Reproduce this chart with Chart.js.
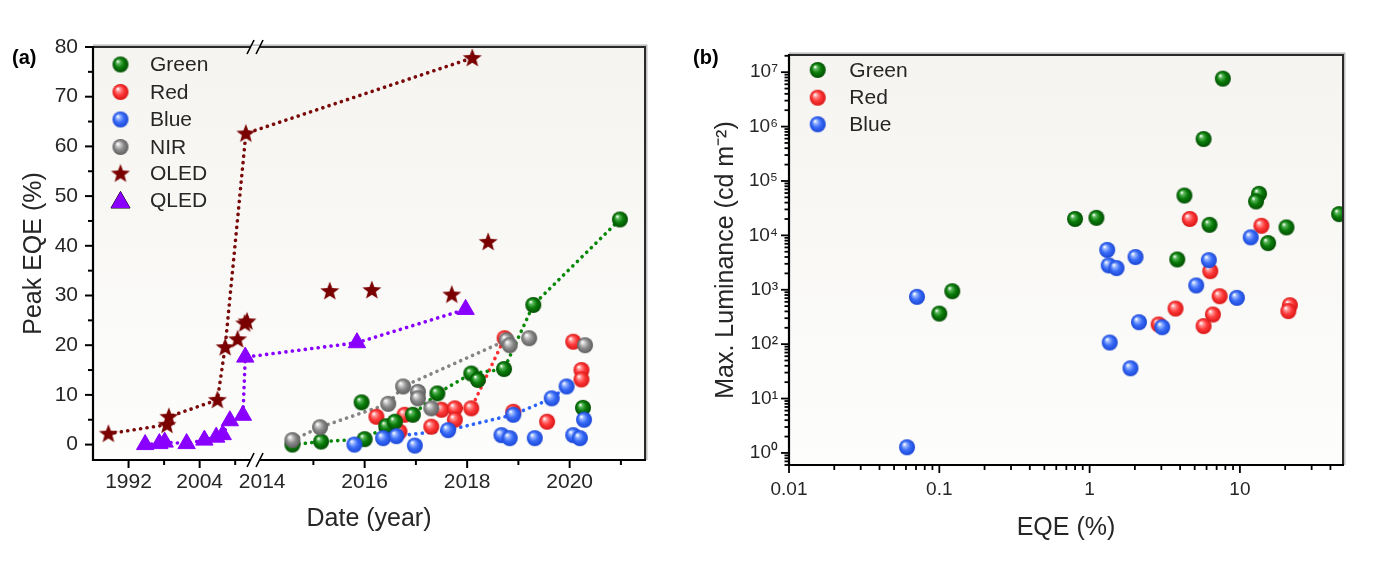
<!DOCTYPE html>
<html><head><meta charset="utf-8">
<script src="https://cdn.jsdelivr.net/npm/chart.js@4.4.0/dist/chart.umd.min.js"></script>
<style>
html,body{margin:0;padding:0;background:#fff;width:1376px;height:563px;overflow:hidden;}
#ca{position:absolute;left:0;top:0;}
#cb{position:absolute;left:680px;top:0;}
.lbl{position:absolute;font-family:"Liberation Sans",Arial,sans-serif;font-weight:bold;font-size:20px;line-height:20px;color:#000;}
</style></head><body>
<canvas id="ca" width="680" height="563"></canvas>
<canvas id="cb" width="696" height="563"></canvas>
<div class="lbl" style="left:12px;top:47px">(a)</div>
<div class="lbl" style="left:693px;top:47px">(b)</div>
<script>
// ---------------- Panel (a): peak EQE vs date ----------------
const greenYears = [2014.59, 2015.15, 2016.00, 2015.94, 2016.42, 2016.59, 2016.94, 2017.42, 2018.08, 2018.21, 2018.72, 2019.29, 2020.98, 2020.26];
const greenEQE   = [0.0, 0.6, 1.1, 8.5, 3.7, 4.6, 6.0, 10.3, 14.3, 13.0, 15.2, 28.1, 45.3, 7.4];
const greenTrendYears = [2014.59, 2015.15, 2016.00, 2016.42, 2016.94, 2017.42, 2018.08, 2018.72, 2019.29, 2020.98];
const greenTrendEQE   = [0.0, 0.6, 1.1, 3.7, 6.0, 10.3, 14.3, 15.2, 28.1, 45.3];

const redYears = [2016.23, 2016.68, 2016.78, 2017.30, 2017.50, 2017.76, 2017.76, 2018.08, 2018.73, 2018.90, 2019.56, 2020.07, 2020.23, 2020.23];
const redEQE   = [5.6, 2.6, 6.0, 3.6, 7.0, 7.3, 5.0, 7.3, 21.4, 6.6, 4.6, 20.7, 15.0, 13.1];
const redTrendYears = [2017.76, 2018.08, 2018.73];
const redTrendEQE   = [7.3, 7.3, 21.4];

const blueYears = [2015.80, 2016.36, 2016.62, 2016.98, 2017.63, 2018.67, 2018.83, 2018.90, 2019.32, 2019.65, 2019.94, 2020.07, 2020.20, 2020.28];
const blueEQE   = [0.0, 1.3, 1.7, -0.2, 2.9, 1.9, 1.3, 6.0, 1.3, 9.3, 11.7, 1.9, 1.3, 5.0];
const blueTrendYears = [2016.62, 2017.63, 2018.90, 2019.65, 2019.94];
const blueTrendEQE   = [1.7, 2.9, 6.0, 9.3, 11.7];

const nirYears = [2014.59, 2015.13, 2016.46, 2016.75, 2017.04, 2017.04, 2017.30, 2018.77, 2018.83, 2019.21, 2020.30];
const nirEQE   = [0.9, 3.5, 8.2, 11.7, 10.6, 9.3, 7.3, 21.0, 20.0, 21.4, 20.0];
const nirTrendYears = [2014.59, 2015.13, 2016.46, 2016.75, 2018.77];
const nirTrendEQE   = [0.9, 3.5, 8.2, 11.7, 21.0];

const oledYears = [1988.6, 1998.5, 1998.8, 2007.0, 2008.3, 2011.8, 2018.10, 2010.4, 2011.6, 2012.0, 2015.32, 2016.14, 2017.70, 2018.41];
const oledEQE   = [2.2, 4.0, 5.6, 9.0, 19.6, 62.6, 77.8, 21.2, 24.4, 24.8, 30.9, 31.1, 30.2, 40.8];
const oledTrendYears = [1988.6, 1998.5, 1998.8, 2007.0, 2008.3, 2011.8, 2018.10];
const oledTrendEQE   = [2.2, 4.0, 5.6, 9.0, 19.6, 62.6, 77.8];

const qledYears = [1994.8, 1997.2, 1998.1, 2001.8, 2004.8, 2006.8, 2007.9, 2009.1, 2011.3, 2011.7, 2015.85, 2017.97];
const qledEQE   = [0.0, 0.2, 0.5, 0.2, 0.9, 1.5, 2.0, 4.8, 5.9, 17.6, 20.5, 27.2];

const aYTicks = [0, 10, 20, 30, 40, 50, 60, 70, 80];
const aYMinor = [5, 15, 25, 35, 45, 55, 65, 75];
const aXTickYears = [1992, 2004, 2014, 2016, 2018, 2020];
const aXMajorMarks = [1992, 2004, 2016, 2018, 2020];
const aXMinorYears = [1998, 2010, 2015, 2017, 2019, 2021];
const aLegendNames = ['Green', 'Red', 'Blue', 'NIR', 'OLED', 'QLED'];

// ---------------- Panel (b): max luminance vs EQE ----------------
const bGreenEQE = [7.7, 5.73, 4.27, 13.4, 12.8, 45.7, 0.80, 1.11, 6.28, 20.4, 15.4, 3.83, 0.122, 0.100];
const bGreenLum = [7.6e6, 5.9e5, 5.4e4, 5.8e4, 4.2e4, 2.46e4, 2.0e4, 2.1e4, 1.56e4, 1.4e4, 7.2e3, 3.6e3, 940, 365];
const bRedEQE = [4.64, 13.9, 6.35, 7.33, 3.73, 6.61, 21.5, 21.0, 5.73, 2.88];
const bRedLum = [2.0e4, 1.5e4, 2.2e3, 760, 450, 350, 520, 405, 215, 230];
const bBlueEQE = [1.31, 11.8, 1.34, 1.51, 2.02, 6.21, 5.12, 9.55, 2.13, 3.04, 1.36, 1.87, 0.071, 0.061];
const bBlueLum = [5.4e3, 9.2e3, 2.8e3, 2.5e3, 4.0e3, 3.5e3, 1.2e3, 710, 253, 205, 107, 36, 740, 1.27];

const bXTicks = [0.01, 0.1, 1, 10];
const bXTickLabels = ['0.01', '0.1', '1', '10'];
const bYTicks = [1, 10, 100, 1e3, 1e4, 1e5, 1e6, 1e7];
const bYTickLabels = ['10\u2070', '10\u00b9', '10\u00b2', '10\u00b3', '10\u2074', '10\u2075', '10\u2076', '10\u2077'];
const bLegendNames = ['Green', 'Red', 'Blue'];

// ---------------- helpers ----------------
const FONT = '"Liberation Sans", Arial, Helvetica, sans-serif';
Chart.defaults.font.family = FONT;
Chart.defaults.color = '#262626';
const TXT = '#262626';

const AX_MIN = 2010.70, AX_MAX = 2021.47;
function toAxis(year) { return year < 2013.9 ? AX_MIN + (year - 1986) * 0.1156 : year; }

function ball(light, color, dark, r) {
  const c = document.createElement('canvas');
  const s = Math.ceil(2 * r + 2);
  c.width = s; c.height = s;
  const g = c.getContext('2d');
  const cx = s / 2, cy = s / 2;
  const grd = g.createRadialGradient(cx - r * 0.35, cy - r * 0.4, r * 0.05, cx, cy, r);
  grd.addColorStop(0, '#ffffff');
  grd.addColorStop(0.2, light);
  grd.addColorStop(0.55, color);
  grd.addColorStop(1, dark);
  g.fillStyle = grd;
  g.beginPath(); g.arc(cx, cy, r, 0, Math.PI * 2); g.fill();
  return c;
}
function starImg(r, color) {
  const c = document.createElement('canvas');
  const s = Math.ceil(2 * r + 2);
  c.width = s; c.height = s;
  const g = c.getContext('2d');
  const cx = s / 2, cy = s / 2 + 0.5;
  g.fillStyle = color;
  g.beginPath();
  for (let i = 0; i < 10; i++) {
    const rr = i % 2 === 0 ? r : r * 0.42;
    const a = -Math.PI / 2 + i * Math.PI / 5;
    const px = cx + rr * Math.cos(a), py = cy + rr * Math.sin(a);
    if (i === 0) g.moveTo(px, py); else g.lineTo(px, py);
  }
  g.closePath(); g.fill();
  return c;
}
const R = 8;
const BALL = {
  green: ball('#5cb85c', '#0a7d0a', '#034e03', R),
  red:   ball('#ff9a9a', '#ff3a3a', '#d81414', R),
  blue:  ball('#9ab8ff', '#3a6cf7', '#1a46d6', R),
  gray:  ball('#d0d0d0', '#8c8c8c', '#5e5e5e', R)
};
const STAR = starImg(10, '#7a0000');
const QCOL = '#8a00ff';

const pts = (xs, ys, f) => xs.map((x, i) => ({ x: f ? f(x) : x, y: ys[i] }));

function pointSet(label, xs, ys, img) {
  return { label, data: pts(xs, ys, toAxis), pointStyle: img, pointRadius: R, pointHoverRadius: R, showLine: false };
}
function trendSet(label, xs, ys, color) {
  return { label, data: pts(xs, ys, toAxis), showLine: true, pointRadius: 0, pointHoverRadius: 0,
    borderColor: color, borderWidth: 3.6, borderDash: [0.1, 6.4], borderCapStyle: 'round', tension: 0, fill: false, trend: true };
}

function paintBg(chart) {
  const { ctx, chartArea: a } = chart;
  ctx.save();
  const g = ctx.createLinearGradient(0, a.top, 0, a.bottom);
  g.addColorStop(0, '#f5f4f0');
  g.addColorStop(1, '#fdfdfc');
  ctx.fillStyle = g;
  ctx.fillRect(a.left, a.top, a.right - a.left, a.bottom - a.top);
  ctx.restore();
}
function line(ctx, x1, y1, x2, y2) { ctx.beginPath(); ctx.moveTo(x1, y1); ctx.lineTo(x2, y2); ctx.stroke(); }

function drawFrame(ctx, a, brk) {
  ctx.save();
  ctx.lineCap = 'butt';
  // soft shadow of the top/right border
  ctx.strokeStyle = '#b0b0b0'; ctx.lineWidth = 1.2;
  ctx.beginPath(); ctx.moveTo(a.left, a.top - 1.8); ctx.lineTo(a.right + 1.8, a.top - 1.8); ctx.lineTo(a.right + 1.8, a.bottom); ctx.stroke();
  ctx.strokeStyle = '#2a2a2a'; ctx.lineWidth = 2;
  if (brk) {
    line(ctx, a.left, a.top, brk - 5.5, a.top);
    line(ctx, brk + 4, a.top, a.right + 1, a.top);
  } else line(ctx, a.left, a.top, a.right + 1, a.top);
  line(ctx, a.right, a.top, a.right, a.bottom);
  ctx.strokeStyle = '#000'; ctx.lineWidth = 2.2;
  line(ctx, a.left, a.top - 1, a.left, a.bottom + 1);
  if (brk) {
    line(ctx, a.left - 1, a.bottom, brk - 5.5, a.bottom);
    line(ctx, brk + 4, a.bottom, a.right + 1, a.bottom);
  } else line(ctx, a.left - 1, a.bottom, a.right + 1, a.bottom);
  if (brk) {
    ctx.lineWidth = 1.6; ctx.strokeStyle = '#000';
    [a.top, a.bottom].forEach(yy => {
      for (let i = 0; i < 2; i++) line(ctx, brk - 9 + 9 * i, yy + 7, brk - 2 + 9 * i, yy - 7);
    });
  }
  ctx.restore();
}

function legend(ctx, items, mx, tx, rows) {
  ctx.save();
  ctx.font = '21px ' + FONT;
  ctx.fillStyle = TXT;
  ctx.textBaseline = 'middle';
  ctx.textAlign = 'left';
  items.forEach((it, i) => {
    const y = rows[i];
    if (it.tri) {
      Chart.helpers.drawPoint(ctx, { pointStyle: 'triangle', radius: 11, rotation: 0, borderWidth: 1 }, mx, y + 2);
      ctx.fillStyle = QCOL; ctx.strokeStyle = QCOL;
      ctx.beginPath();
      const r = 11;
      ctx.moveTo(mx, y + 2 - r);
      ctx.lineTo(mx + r * 0.866, y + 2 + r / 2);
      ctx.lineTo(mx - r * 0.866, y + 2 + r / 2);
      ctx.closePath(); ctx.fill();
    } else {
      const img = it.img;
      ctx.drawImage(img, mx - img.width / 2, y - img.height / 2);
    }
    ctx.fillStyle = TXT;
    ctx.fillText(it.name, tx, y + 1);
  });
  ctx.restore();
}

// ---------------- Chart (a) ----------------
const plugA = {
  id: 'plugA',
  beforeDraw(chart) { paintBg(chart); },
  afterDraw(chart) {
    const { ctx, chartArea: a, scales: { x, y } } = chart;
    const brk = x.getPixelForValue(2013.9) - 1;
    drawFrame(ctx, a, brk);
    ctx.save();
    ctx.strokeStyle = '#000'; ctx.lineWidth = 2;
    aYTicks.forEach(v => { const p = y.getPixelForValue(v); line(ctx, a.left - 8, p, a.left, p); });
    aYMinor.forEach(v => { const p = y.getPixelForValue(v); line(ctx, a.left - 5, p, a.left, p); });
    aXMajorMarks.forEach(v => { const p = x.getPixelForValue(toAxis(v)); line(ctx, p, a.bottom, p, a.bottom + 8); });
    aXMinorYears.forEach(v => { const p = x.getPixelForValue(toAxis(v)); line(ctx, p, a.bottom, p, a.bottom + 5); });
    ctx.restore();
    const imgs = [BALL.green, BALL.red, BALL.blue, BALL.gray, STAR, null];
    legend(ctx, aLegendNames.map((n, i) => ({ name: n, img: imgs[i], tri: i === 5 })), 120.5, 150, [64.5, 92, 119.5, 147, 173.5, 200.5]);
  }
};

new Chart(document.getElementById('ca'), {
  type: 'scatter',
  data: {
    datasets: [
      pointSet('OLED', oledYears, oledEQE, STAR),
      { label: 'QLED', data: pts(qledYears, qledEQE, toAxis), showLine: true, pointStyle: 'triangle', pointRadius: 10, pointHoverRadius: 10,
        backgroundColor: QCOL, pointBackgroundColor: QCOL, pointBorderColor: QCOL, pointBorderWidth: 1,
        borderColor: QCOL, borderWidth: 3.6, borderDash: [0.1, 6.4], borderCapStyle: 'round', tension: 0 },
      pointSet('Blue', blueYears, blueEQE, BALL.blue),
      pointSet('NIR', nirYears, nirEQE, BALL.gray),
      pointSet('Green', greenYears, greenEQE, BALL.green),
      pointSet('Red', redYears, redEQE, BALL.red),
      trendSet('OLED trend', oledTrendYears, oledTrendEQE, '#7a0a0a'),
      trendSet('Blue trend', blueTrendYears, blueTrendEQE, '#2d64ff'),
      trendSet('NIR trend', nirTrendYears, nirTrendEQE, '#858585'),
      trendSet('Green trend', greenTrendYears, greenTrendEQE, '#088808'),
      trendSet('Red trend', redTrendYears, redTrendEQE, '#ff3030')
    ]
  },
  options: {
    responsive: false, animation: false, events: [],
    layout: { padding: { left: 19.5, top: 47, right: 35, bottom: 28.5 } },
    plugins: { legend: { display: false }, tooltip: { enabled: false } },
    scales: {
      x: {
        type: 'linear', min: AX_MIN, max: AX_MAX,
        afterBuildTicks(s) { s.ticks = aXTickYears.map(yr => ({ value: toAxis(yr) })); },
        afterFit(s) { s.height = 74.5; },
        ticks: { autoSkip: false, maxRotation: 0, minRotation: 0, padding: 2, font: { size: 21 }, color: TXT,
          callback: (v, i) => String(aXTickYears[i]) },
        grid: { display: false, drawTicks: true, tickLength: 8 },
        border: { display: false },
        title: { display: true, text: 'Date (year)', font: { size: 25 }, color: TXT, padding: { top: 0, bottom: 0 } }
      },
      y: {
        type: 'linear', min: -3.1, max: 80,
        afterBuildTicks(s) { s.ticks = aYTicks.map(v => ({ value: v })); },
        afterFit(s) { s.width = 73.5; },
        ticks: { padding: 7, font: { size: 21 }, color: TXT, callback: (v, i) => String(aYTicks[i]) },
        grid: { display: false, drawTicks: true, tickLength: 8 },
        border: { display: false },
        title: { display: true, text: 'Peak EQE (%)', font: { size: 25 }, color: TXT, padding: { top: 0, bottom: 0 } }
      }
    }
  },
  plugins: [plugA]
});

// ---------------- Chart (b) ----------------
const plugB = {
  id: 'plugB',
  beforeDraw(chart) { paintBg(chart); },
  afterDraw(chart) {
    const { ctx, chartArea: a, scales: { x, y } } = chart;
    drawFrame(ctx, a, null);
    ctx.save();
    ctx.strokeStyle = '#000'; ctx.lineWidth = 1.8;
    for (let d = -2; d <= 1; d++) {
      for (let k = 1; k <= 9; k++) {
        const v = k * Math.pow(10, d);
        if (v < x.min * 0.999 || v > x.max) continue;
        const p = x.getPixelForValue(v);
        line(ctx, p, a.bottom, p, a.bottom + (k === 1 ? 8 : 5));
      }
    }
    for (let d = -1; d <= 7; d++) {
      for (let k = 1; k <= 9; k++) {
        const v = k * Math.pow(10, d);
        if (v < y.min || v > y.max) continue;
        const p = y.getPixelForValue(v);
        line(ctx, a.left - (k === 1 ? 8 : 4.5), p, a.left, p);
      }
    }
    ctx.restore();
    legend(ctx, bLegendNames.map((n, i) => ({ name: n, img: [BALL.green, BALL.red, BALL.blue][i] })), 137.7, 169.3, [70, 97.7, 124.3]);
  }
};

function bSet(label, xs, ys, img) {
  return { label, data: pts(xs, ys), pointStyle: img, pointRadius: R, pointHoverRadius: R, showLine: false };
}

new Chart(document.getElementById('cb'), {
  type: 'scatter',
  data: {
    datasets: [
      bSet('Blue', bBlueEQE, bBlueLum, BALL.blue),
      bSet('Green', bGreenEQE, bGreenLum, BALL.green),
      bSet('Red', bRedEQE, bRedLum, BALL.red)
    ]
  },
  options: {
    responsive: false, animation: false, events: [],
    layout: { padding: { left: 31, top: 55, right: 33, bottom: 20 } },
    plugins: { legend: { display: false }, tooltip: { enabled: false } },
    scales: {
      x: {
        type: 'logarithmic', min: 0.01, max: 48.5,
        afterBuildTicks(s) { s.ticks = bXTicks.map(v => ({ value: v })); },
        afterFit(s) { s.height = 78; },
        ticks: { autoSkip: false, maxRotation: 0, minRotation: 0, padding: 5, font: { size: 19 }, color: TXT,
          callback: (v, i) => bXTickLabels[i] },
        grid: { display: false, drawTicks: true, tickLength: 8 },
        border: { display: false },
        title: { display: true, text: 'EQE (%)', font: { size: 25 }, color: TXT, padding: { top: 0, bottom: 0 } }
      },
      y: {
        type: 'logarithmic', min: 0.631, max: 2.07e7,
        afterBuildTicks(s) { s.ticks = bYTicks.map(v => ({ value: v })); },
        afterFit(s) { s.width = 78; },
        ticks: { autoSkip: false, padding: 3, font: { size: 19 }, color: TXT, callback: (v, i) => bYTickLabels[i] },
        grid: { display: false, drawTicks: true, tickLength: 8 },
        border: { display: false },
        title: { display: true, text: 'Max. Luminance (cd m\u207b\u00b2)', font: { size: 25 }, color: TXT, padding: { top: 0, bottom: 0 } }
      }
    }
  },
  plugins: [plugB]
});
</script>
</body></html>
